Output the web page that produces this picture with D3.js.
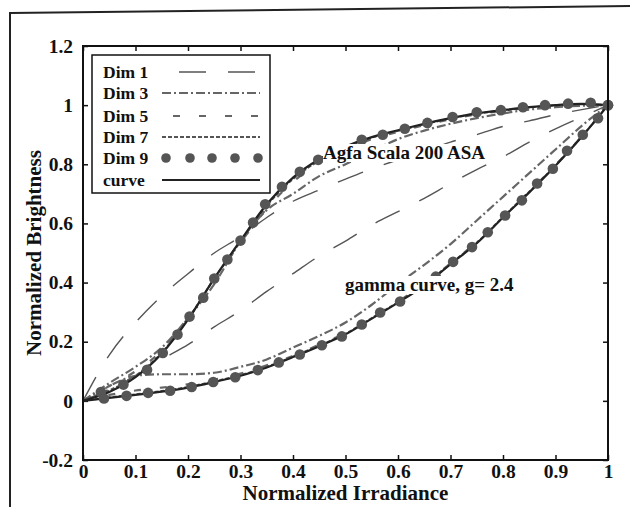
<!DOCTYPE html>
<html><head><meta charset="utf-8">
<script src="https://cdn.jsdelivr.net/npm/d3@7"></script>
<style>body{margin:0;background:#fff}svg{display:block}text{font-family:"Liberation Serif","Times New Roman",serif;font-weight:bold}</style>
</head><body>
<svg id="c" width="630" height="507"></svg>
<script>
// ---- data ----
const xGrid = [0,0.05,0.1,0.15,0.2,0.25,0.3,0.35,0.4,0.45,0.5,0.55,0.6,0.65,0.7,0.75,0.8,0.85,0.9,0.95,1];
const agfaCurve = [0,0.03,0.08,0.16,0.275,0.414,0.542,0.665,0.755,0.817,0.86,0.892,0.915,0.937,0.956,0.972,0.983,0.993,1.0,1.004,1];
const agfaDim1  = [0,0.155,0.265,0.355,0.43,0.50,0.555,0.62,0.675,0.713,0.75,0.785,0.815,0.845,0.875,0.90,0.928,0.947,0.968,0.985,1];
const agfaDim3  = [0,0.06,0.115,0.18,0.28,0.395,0.54,0.645,0.70,0.76,0.80,0.845,0.885,0.914,0.937,0.956,0.972,0.985,0.993,0.998,1];
const agfaDim5  = [0,0.05,0.10,0.17,0.28,0.41,0.535,0.65,0.74,0.805,0.85,0.885,0.91,0.932,0.952,0.969,0.981,0.991,0.997,1.0,1];
const agfaDim7  = [0,0.035,0.085,0.163,0.277,0.413,0.54,0.66,0.75,0.812,0.857,0.89,0.913,0.935,0.955,0.971,0.982,0.992,0.999,1.003,1];
const agfaDotsX = [0.034,0.077,0.122,0.152,0.18,0.203,0.229,0.25,0.275,0.3,0.324,0.347,0.379,0.413,0.448,0.49,0.531,0.571,0.613,0.656,0.704,0.75,0.796,0.838,0.88,0.924,0.967,1];
const agfaDotsY = [0.03,0.055,0.105,0.162,0.224,0.285,0.349,0.414,0.478,0.542,0.603,0.665,0.724,0.775,0.815,0.85,0.883,0.90,0.92,0.94,0.96,0.976,0.983,0.993,1.0,1.005,1.008,1];

const gammaCurve = [0,0.01,0.02,0.031,0.045,0.064,0.085,0.113,0.148,0.185,0.225,0.278,0.332,0.39,0.462,0.533,0.62,0.705,0.795,0.893,1];
const gammaDim1  = [0,0.04,0.085,0.14,0.19,0.25,0.305,0.37,0.43,0.49,0.54,0.595,0.64,0.685,0.735,0.782,0.825,0.875,0.92,0.96,1];
const gammaDim3  = [0,0.05,0.085,0.09,0.09,0.095,0.115,0.14,0.18,0.22,0.265,0.325,0.395,0.46,0.53,0.61,0.69,0.77,0.85,0.93,1];
const gammaDim5  = [0,0.02,0.035,0.045,0.056,0.072,0.092,0.12,0.152,0.19,0.23,0.282,0.336,0.395,0.465,0.537,0.623,0.708,0.797,0.894,1];
const gammaDim7  = [0,0.012,0.022,0.033,0.047,0.066,0.087,0.115,0.15,0.187,0.227,0.28,0.334,0.392,0.464,0.535,0.622,0.707,0.796,0.894,1];
const gammaDotsX = [0.04,0.083,0.124,0.166,0.207,0.248,0.29,0.333,0.373,0.413,0.455,0.493,0.531,0.566,0.604,0.64,0.672,0.705,0.741,0.771,0.804,0.836,0.865,0.895,0.922,0.952,0.981,1];
const gammaDotsY = [0.008,0.017,0.027,0.034,0.047,0.064,0.08,0.104,0.13,0.157,0.188,0.218,0.258,0.299,0.336,0.38,0.42,0.47,0.52,0.57,0.627,0.678,0.735,0.785,0.846,0.9,0.956,1];

const legendLabels = ["Dim 1","Dim 3","Dim 5","Dim 7","Dim 9","curve"];
const xTicks = [0,0.1,0.2,0.3,0.4,0.5,0.6,0.7,0.8,0.9,1];
const yTicks = [-0.2,0,0.2,0.4,0.6,0.8,1,1.2];
const xTitle = "Normalized Irradiance";
const yTitle = "Normalized Brightness";
const label1 = "Agfa Scala 200 ASA";
const label2 = "gamma curve, g= 2.4";

// ---- styles ----
const styles = {
  "Dim 1": {stroke:"#555", w:1.4, dash:"27,22"},
  "Dim 3": {stroke:"#666", w:2.2, dash:"9,3,2,3"},
  "Dim 5": {stroke:"#666", w:2.2, dash:"7,19"},
  "Dim 7": {stroke:"#555", w:2, dash:"4,2"},
  "curve": {stroke:"#222", w:2.2, dash:null}
};

const svg = d3.select("#c");
const L=83, R=608, T=46, B=460;
const x = d3.scaleLinear([0,1],[L,R]);
const y = d3.scaleLinear([-0.2,1.2],[B,T]);

// outer frame (scanned figure border)
svg.append("line").attr("x1",10).attr("y1",13).attr("x2",630).attr("y2",6).attr("stroke","#222").attr("stroke-width",2);
svg.append("line").attr("x1",10).attr("y1",12).attr("x2",10).attr("y2",507).attr("stroke","#222").attr("stroke-width",2);

const fmt = d => String(+(+d).toFixed(1));
const gx = svg.append("g").attr("transform",`translate(0,${B})`)
  .call(d3.axisBottom(x).tickValues(xTicks).tickSize(-5).tickPadding(4).tickFormat(fmt));
const gxt = svg.append("g").attr("transform",`translate(0,${T})`)
  .call(d3.axisTop(x).tickValues(xTicks).tickSize(-5).tickFormat(""));
const gy = svg.append("g").attr("transform",`translate(${L},0)`)
  .call(d3.axisLeft(y).tickValues(yTicks).tickSize(-5).tickPadding(10).tickFormat(fmt));
const gyr = svg.append("g").attr("transform",`translate(${R},0)`)
  .call(d3.axisRight(y).tickValues(yTicks).tickSize(-5).tickFormat(""));
[gx,gxt,gy,gyr].forEach(g=>{g.select(".domain").remove();g.selectAll(".tick line").attr("stroke","#111").attr("stroke-width",1.5);
  g.selectAll("text").attr("font-size",19.5).attr("fill","#111").attr("font-family",'"Liberation Serif",serif').attr("font-weight","bold");});

const line = d3.line().x(d=>x(d[0])).y(d=>y(d[1])).curve(d3.curveMonotoneX);
const plot = svg.append("g");
function drawSeries(vals, name){
  const s = styles[name];
  plot.append("path").datum(xGrid.map((v,i)=>[v,vals[i]])).attr("d",line)
    .attr("fill","none").attr("stroke",s.stroke).attr("stroke-width",s.w)
    .attr("stroke-dasharray",s.dash);
}
drawSeries(agfaDim1,"Dim 1"); drawSeries(gammaDim1,"Dim 1");
drawSeries(agfaDim3,"Dim 3"); drawSeries(gammaDim3,"Dim 3");
drawSeries(agfaDim5,"Dim 5"); drawSeries(gammaDim5,"Dim 5");
drawSeries(agfaDim7,"Dim 7"); drawSeries(gammaDim7,"Dim 7");
drawSeries(agfaCurve,"curve"); drawSeries(gammaCurve,"curve");
function drawDots(xs, ys){
  plot.selectAll(null).data(xs.map((v,i)=>[v,ys[i]])).enter().append("circle")
    .attr("cx",d=>x(d[0])).attr("cy",d=>y(d[1])).attr("r",5.3).attr("fill","#555");
}
drawDots(agfaDotsX, agfaDotsY);
drawDots(gammaDotsX, gammaDotsY);

// plot frame
svg.append("rect").attr("x",L).attr("y",T).attr("width",R-L).attr("height",B-T)
  .attr("fill","none").attr("stroke","#111").attr("stroke-width",2);

// annotation labels with white background
function note(txt, lx, ly){
  const g = svg.append("g");
  const r = g.append("rect").attr("fill","#fff");
  const t = g.append("text").attr("x",lx).attr("y",ly).attr("font-size",19).attr("fill","#111").text(txt);
  const bb = t.node().getBBox();
  r.attr("x",bb.x).attr("y",bb.y+2).attr("width",bb.width).attr("height",bb.height-3);
}
note(label1, 323, 159);
note(label2, 345, 291);

// legend
const lg = svg.append("g");
lg.append("rect").attr("x",92).attr("y",55).attr("width",178).attr("height",138)
  .attr("fill","#fff").attr("stroke","#111").attr("stroke-width",1.5);
const rowY = [72,93,116,137,158,180];
legendLabels.forEach((name,i)=>{
  const cy = rowY[i];
  lg.append("text").attr("x",103).attr("y",cy+6).attr("font-size",17.5).attr("fill","#111").text(name);
  if(name==="Dim 9"){
    lg.selectAll(null).data([166,190,212,235,258]).enter().append("circle")
      .attr("cx",d=>d).attr("cy",cy).attr("r",4.8).attr("fill","#555");
  } else {
    const s = styles[name];
    let x1=162, x2=260;
    if(name==="Dim 1"){x1=179;x2=258;}
    if(name==="Dim 5"){x1=173;x2=259;}
    lg.append("line").attr("x1",x1).attr("x2",x2).attr("y1",cy).attr("y2",cy)
      .attr("stroke",s.stroke).attr("stroke-width",s.w)
      .attr("stroke-dasharray",s.dash);
  }
});

// axis titles
svg.append("text").attr("x",(L+R)/2).attr("y",500).attr("text-anchor","middle")
  .attr("font-size",21).attr("fill","#111").text(xTitle);
svg.append("text").attr("transform",`translate(41,${(T+B)/2}) rotate(-90)`).attr("text-anchor","middle")
  .attr("font-size",21).attr("fill","#111").text(yTitle);
</script>
</body></html>
